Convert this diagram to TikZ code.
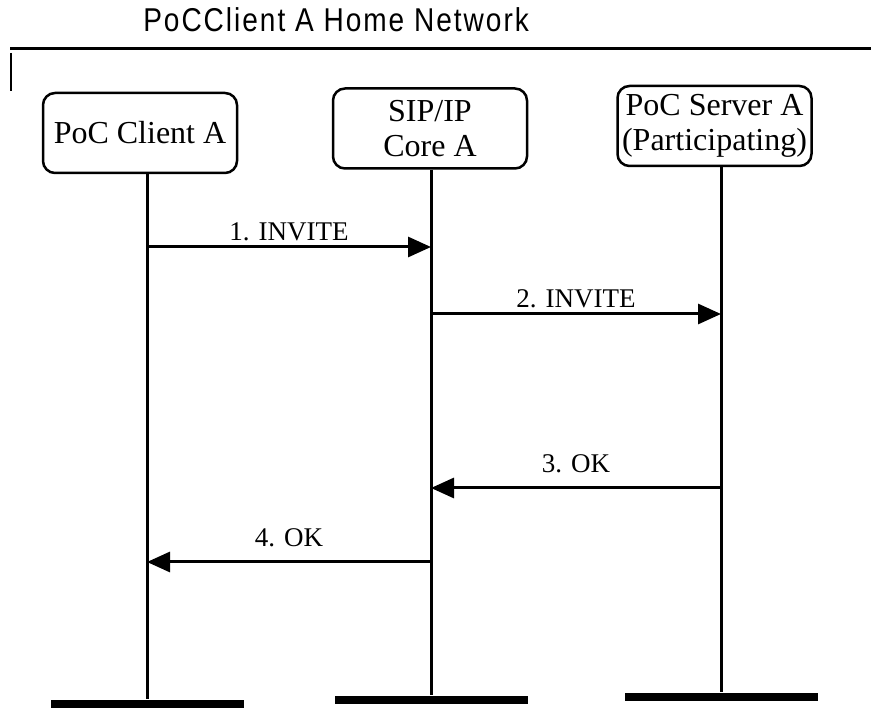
\documentclass[tikz,border=0pt]{standalone}
\usepackage{fontspec}
\setmainfont{Liberation Serif}
\newfontfamily\headfont[LetterSpace=6,FakeStretch=0.85]{Liberation Sans}
\usetikzlibrary{arrows.meta}

\begin{document}
\begin{tikzpicture}[x=1pt,y=-1pt,line width=2.5pt,
    entity node/.style={draw,rounded corners=12pt,align=center,minimum width=194pt,minimum height=80pt,inner sep=1pt,font=\fontsize{32}{35}\selectfont},
    end node/.style={fill,minimum width=193pt,minimum height=8pt,inner sep=0pt},
    msg/.style={-{Triangle[length=23pt,width=20pt]},line width=3pt},
    lbl/.style={above=3pt,inner sep=2pt,font=\fontsize{27}{30}\selectfont}]

	\useasboundingbox (0,0) rectangle (871,708);

	\node[anchor=base west,inner sep=0pt,font=\headfont\fontsize{33}{36}\selectfont] (title) at (142,32) {PoCClient A Home Network};
	\draw[line width=3pt] (10,49) -- (871,49);
	\draw (11,53) -- (11,91);

	\node[entity node] (1) at (140,133) {PoC Client A};
	\node[entity node] (2) at (430,128.5) {SIP/IP\\Core A};
	\node[entity node] (3) at (714.5,126) {PoC Server A\\(Participating)};

	\node[end node] (e1) at (147,704) {};
	\node[end node] (e2) at (431,700) {};
	\node[end node] (e3) at (721,697) {};

	\draw[line width=3pt] (1.south -| e1) -- (e1.north);
	\draw[line width=3pt] (2.south -| e2) -- (e2.north);
	\draw[line width=3pt] (3.south -| e3) -- (e3.north);

	\coordinate (m1s) at (e1 |- 0,247);
	\coordinate (m1e) at (e2 |- 0,247);
	\coordinate (m2s) at (e2 |- 0,314);
	\coordinate (m2e) at (e3 |- 0,314);
	\coordinate (m3s) at (e3 |- 0,488);
	\coordinate (m3e) at (e2 |- 0,488);
	\coordinate (m4s) at (e2 |- 0,562);
	\coordinate (m4e) at (e1 |- 0,562);

	\path[msg]
	(m1s) edge node[lbl] {1. INVITE} (m1e)
	(m2s) edge node[lbl] {2. INVITE} (m2e)
	(m3s) edge node[lbl,above=9pt] {3. OK} (m3e)
	(m4s) edge node[lbl,above=9pt] {4. OK} (m4e);

\end{tikzpicture}
\end{document}
